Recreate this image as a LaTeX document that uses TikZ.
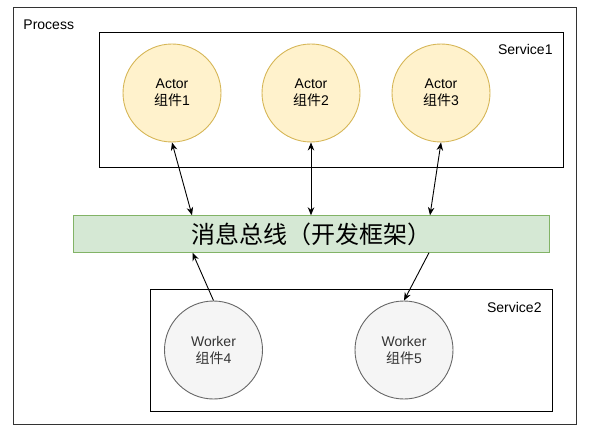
\documentclass[tikz,border=0pt]{standalone}
\usepackage{fontspec}
\setmainfont{Liberation Sans}
\newfontfamily\cjk{Noto Sans CJK SC}
\usetikzlibrary{arrows.meta,positioning}
\definecolor{actfill}{HTML}{FFF2CC}
\definecolor{actline}{HTML}{D6B656}
\definecolor{wrkfill}{HTML}{F5F5F5}
\definecolor{wrkline}{HTML}{666666}
\definecolor{busfill}{HTML}{D5E8D4}
\definecolor{busline}{HTML}{82B366}
\newcommand{\zujian}[1]{{\cjk 组件}#1}

\begin{document}
\begin{tikzpicture}[x=1pt, y=-1pt, >={Stealth[length=8pt,width=6.5pt]}, line width=0.9pt,
  every node/.style={font=\fontsize{14}{17}\selectfont, inner sep=0pt},
  box/.style={draw=black!80, minimum width=#1},
  actor/.style={circle, draw=actline, fill=actfill, minimum size=98pt, align=center},
  worker/.style={circle, draw=wrkline, fill=wrkfill, minimum size=98pt, align=center, text=black!80}]
  \useasboundingbox (0,0) rectangle (594,433);
  % boxes
  \node[box=563pt, minimum height=417pt] (proc) at (294.5,215.5) {};
  \node[anchor=west] (lproc) at (23,25) {Process};
  \node[box=464pt, minimum height=135pt, draw=black] (svc1) at (331,99.5) {};
  \node[anchor=east] (lsvc1) at (553,49) {Service1};
  \node[box=402pt, minimum height=122pt, draw=black] (svc2) at (351,350) {};
  \node[anchor=east] (lsvc2) at (542,307) {Service2};
  % components
  \node[actor] (a1) at (172,93) {Actor\\\zujian{1}};
  \node[actor] (a2) at (311,93) {Actor\\\zujian{2}};
  \node[actor] (a3) at (441,93) {Actor\\\zujian{3}};
  \node[worker] (w4) at (213.5,350) {Worker\\\zujian{4}};
  \node[worker] (w5) at (404,350) {Worker\\\zujian{5}};
  % bus
  \node[draw=busline, fill=busfill, minimum width=476pt, minimum height=36.6pt,
    font=\fontsize{24}{26}\selectfont\cjk] (bus) at (311,234) {消息总线（开发框架）};
  % links
  \draw[<->] (a1.south) -- ([xshift=20pt]a1.south |- bus.north);
  \draw[<->] (a2.south) -- (a2.south |- bus.north);
  \draw[<->] (a3.south) -- ([xshift=-11pt]a3.south |- bus.north);
  \draw[->] (w4.north) -- ([xshift=-21pt]w4.north |- bus.south);
  \draw[->] ([xshift=25pt]w5.north |- bus.south) -- (w5.north);
\end{tikzpicture}
\end{document}
